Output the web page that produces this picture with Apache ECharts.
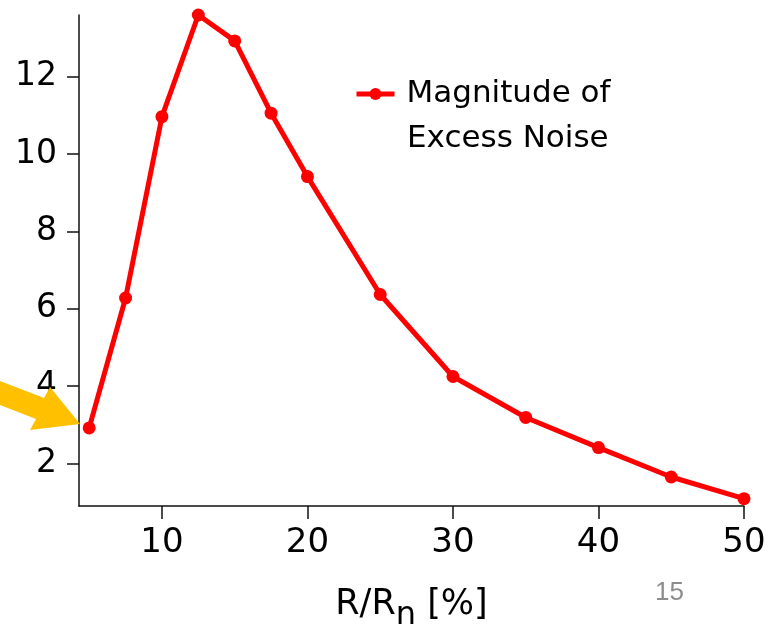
<!DOCTYPE html>
<html>
<head>
<meta charset="utf-8">
<script src="https://cdn.jsdelivr.net/npm/echarts@6/dist/echarts.min.js"></script>
<style>
html,body{margin:0;padding:0;background:#fff;}
#chart{width:769px;height:625px;}
</style>
</head>
<body>
<div id="chart"></div>
<script>
const xValues = [5, 7.5, 10, 12.5, 15, 17.5, 20, 25, 30, 35, 40, 45, 50];
const yValues = [2.92, 6.28, 10.97, 13.6, 12.93, 11.06, 9.42, 6.37, 4.25, 3.19, 2.41, 1.65, 1.09];
const xTicks = [10, 20, 30, 40, 50];
const yTicks = [2, 4, 6, 8, 10, 12];
const seriesName = 'Magnitude of';
const legendSecondLine = 'Excess Noise';
const slideNumber = '15';

const FONT = 'DejaVu Sans';
const chart = echarts.init(document.getElementById('chart'), null, {renderer: 'canvas'});
const data = xValues.map((x, i) => [x, yValues[i]]);

chart.setOption({
  animation: false,
  backgroundColor: '#fff',
  grid: {left: 79, right: 25, top: 15, bottom: 119, containLabel: false, outerBoundsMode: 'none'},
  xAxis: {
    type: 'value', min: 4.3, max: 50,
    splitLine: {show: false},
    axisLine: {show: true, onZero: false, lineStyle: {color: '#111', width: 1.5}},
    axisTick: {show: true, length: 13, customValues: xTicks, lineStyle: {color: '#111', width: 1.5}},
    axisLabel: {customValues: xTicks, fontSize: 34, fontFamily: FONT, color: '#000', margin: 20},
    name: '{a|R/R}{b|n}{a| [%]}',
    nameLocation: 'middle',
    nameGap: 72,
    nameTextStyle: {
      rich: {
        a: {fontSize: 35, fontFamily: FONT, color: '#000'},
        b: {fontSize: 32, fontFamily: FONT, color: '#000', padding: [22, 0, 0, 0]}
      }
    }
  },
  yAxis: {
    type: 'value', min: 0.9, max: 13.6,
    splitLine: {show: false},
    axisLine: {show: true, onZero: false, lineStyle: {color: '#111', width: 1.5}},
    axisTick: {show: true, length: 12, customValues: yTicks, lineStyle: {color: '#111', width: 1.5}},
    axisLabel: {customValues: yTicks, fontSize: 33, fontFamily: FONT, color: '#000', margin: 22}
  },
  legend: {
    show: true,
    left: 354, top: 72.5,
    padding: 0,
    itemWidth: 38, itemHeight: 15,
    lineStyle: {width: 5},
    textStyle: {fontSize: 31, fontFamily: FONT, color: '#000', lineHeight: 43, padding: [0, 0, 0, 7]},
    data: [seriesName]
  },
  series: [{
    name: seriesName,
    type: 'line',
    data: data,
    clip: false,
    symbol: 'circle',
    symbolSize: 13,
    lineStyle: {color: '#ff0000', width: 5},
    itemStyle: {color: '#ff0000'}
  }],
  graphic: [
    {
      type: 'polygon',
      shape: {points: [[0, 381], [44, 398], [50, 387], [80, 424], [30, 430], [36, 419], [0, 405]]},
      style: {fill: '#ffc000'},
      z: 1
    },
    {
      type: 'text',
      left: 407, top: 117.5,
      style: {text: legendSecondLine, fontSize: 31, fontFamily: FONT, fill: '#000', lineHeight: 43}
    },
    {
      type: 'text',
      left: 655, top: 580,
      style: {text: slideNumber, fontSize: 26, fontFamily: 'Liberation Sans', fill: '#8c8c8c'}
    }
  ]
});
</script>
</body>
</html>
